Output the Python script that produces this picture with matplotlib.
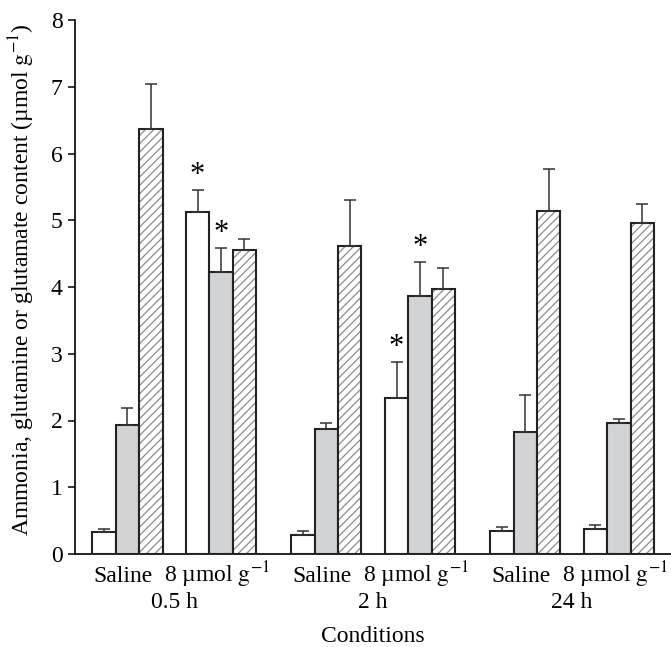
import numpy as np
import matplotlib
matplotlib.use('Agg')
import matplotlib.pyplot as plt
import matplotlib.transforms as mtransforms

# Values (umol/g), upper error only
conditions = ['Saline', r'8 µmol $\mathrm{g}^{-1}$', 'Saline', r'8 µmol $\mathrm{g}^{-1}$',
              'Saline', r'8 µmol $\mathrm{g}^{-1}$']
times = ['0.5 h', '2 h', '24 h']
ammonia = [0.33, 5.12, 0.29, 2.33, 0.35, 0.38]
ammonia_err = [0.04, 0.33, 0.06, 0.54, 0.06, 0.06]
glutamine = [1.93, 4.22, 1.87, 3.87, 1.83, 1.97]
glutamine_err = [0.26, 0.36, 0.10, 0.50, 0.55, 0.05]
glutamate = [6.36, 4.55, 4.62, 3.97, 5.14, 4.96]
glutamate_err = [0.68, 0.17, 0.68, 0.31, 0.63, 0.29]
star_ammonia = [False, True, False, True, False, False]
star_glutamine = [False, True, False, True, False, False]

plt.rcParams['font.family'] = ['Liberation Serif', 'DejaVu Serif']
plt.rcParams['mathtext.fontset'] = 'stix'
plt.rcParams['hatch.linewidth'] = 0.9

FS = 17
EDGE = '#222222'

group_left = np.array([0, 4, 8.5, 12.5, 17, 21])

fig = plt.figure(figsize=(6.71, 6.47), dpi=100)
ax = fig.add_axes([75 / 671, 93 / 647, 596 / 671, 534 / 647])

zero = [0] * len(ammonia)
err_kw = dict(ecolor='#333333', elinewidth=1.1, capsize=4, capthick=1.1)

ax.bar(group_left, ammonia, width=1, align='edge', color='white',
       edgecolor=EDGE, linewidth=1.5, yerr=[zero, ammonia_err],
       error_kw=err_kw, zorder=3)
ax.bar(group_left + 1, glutamine, width=1, align='edge', color='#d2d3d5',
       edgecolor=EDGE, linewidth=1.5, yerr=[zero, glutamine_err],
       error_kw=err_kw, zorder=3)
# hatched bars: hatch in grey, outline in black drawn on top
ax.bar(group_left + 2, glutamate, width=1, align='edge', color='white',
       edgecolor='#8c8c8c', hatch='////', linewidth=0, zorder=3)
ax.bar(group_left + 2, glutamate, width=1, align='edge', fill=False,
       edgecolor=EDGE, linewidth=1.5, yerr=[zero, glutamate_err],
       error_kw=err_kw, zorder=4)

# significance marks
for i in range(len(group_left)):
    if star_ammonia[i]:
        ax.text(group_left[i] + 0.5, ammonia[i] + ammonia_err[i], '*',
                ha='center', va='bottom', fontsize=22)
    if star_glutamine[i]:
        ax.text(group_left[i] + 1.5, glutamine[i] + glutamine_err[i], '*',
                ha='center', va='bottom', fontsize=22)

ax.set_xlim(-0.74, 24.73)
ax.set_ylim(0, 8)
ax.set_yticks(range(0, 9))
ax.tick_params(axis='y', direction='out', length=5, width=1.1, labelsize=FS, pad=4)
ax.set_xticks(group_left + 1.5)
ax.set_xticklabels(conditions)
ax.tick_params(axis='x', length=0, labelsize=FS, pad=20)
shift = mtransforms.ScaledTranslation(-4 / 100, 0, fig.dpi_scale_trans)
for lab in ax.get_xticklabels():
    lab.set_verticalalignment('baseline')
    lab.set_transform(lab.get_transform() + shift)

for k, t in enumerate(times):
    xc = (group_left[2 * k] + group_left[2 * k + 1] + 3) / 2
    ax.text(xc, -0.102, t, ha='center', va='baseline', fontsize=FS,
            transform=ax.get_xaxis_transform())

fig.text(0.5 * (75 + 671) / 671, 5 / 647, 'Conditions', ha='center',
         va='baseline', fontsize=FS)
fig.text(22 / 671, (647 - 280) / 647,
         r'Ammonia, glutamine or glutamate content (µmol $\mathrm{g}^{-1}$)',
         rotation=90, ha='center', va='center', fontsize=FS)

for s in ['top', 'right']:
    ax.spines[s].set_visible(False)
ax.spines['left'].set_linewidth(1.2)
ax.spines['bottom'].set_linewidth(1.2)

fig.savefig('out.png', dpi=100)
